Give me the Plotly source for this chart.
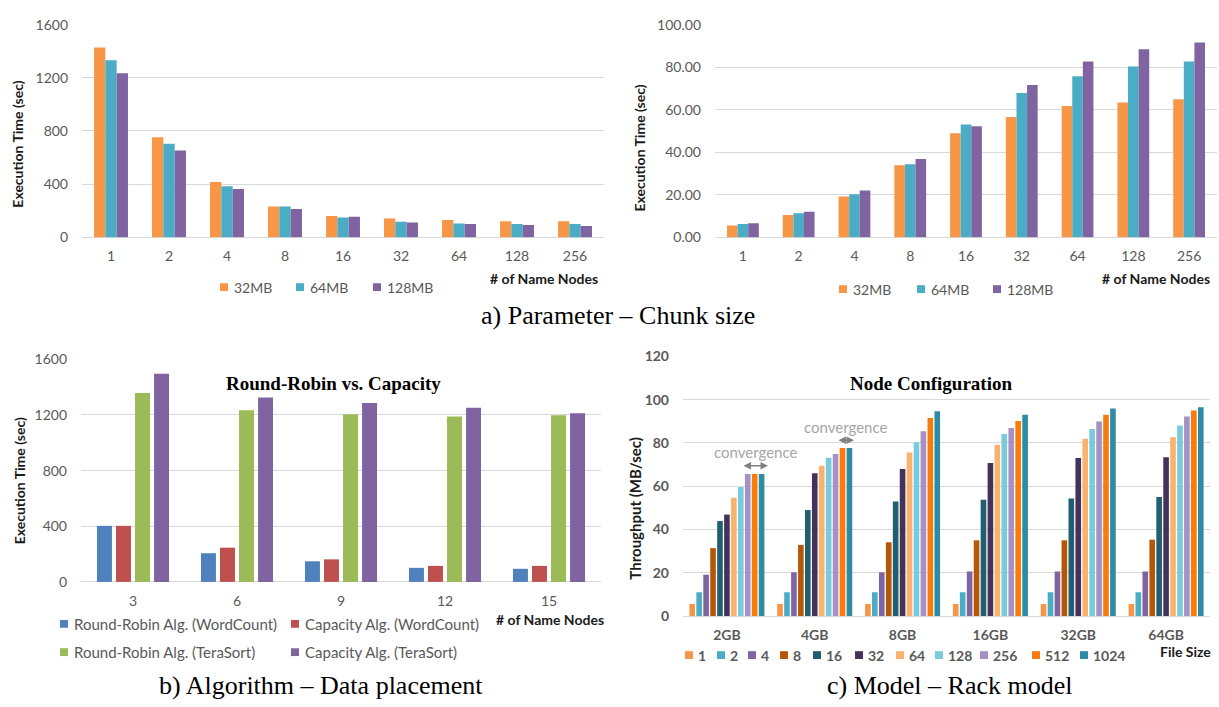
import plotly.graph_objects as go

W, H = 1219, 707

# ---------------- data ----------------
name_nodes_a = ["1", "2", "4", "8", "16", "32", "64", "128", "256"]
chunk_sizes = ["32MB", "64MB", "128MB"]
a_left_32mb = [1428, 753, 416, 232, 161, 142, 130, 122, 122]
a_left_64mb = [1332, 704, 384, 232, 149, 117, 105, 100, 100]
a_left_128mb = [1234, 653, 364, 213, 156, 112, 100, 93, 86]
a_right_32mb = [5.6, 10.5, 19.2, 33.9, 49.0, 56.6, 61.8, 63.4, 64.9]
a_right_64mb = [6.3, 11.3, 20.3, 34.4, 53.0, 67.9, 75.7, 80.3, 82.7]
a_right_128mb = [6.6, 12.1, 22.0, 36.8, 52.2, 71.6, 82.7, 88.4, 91.6]

name_nodes_b = ["3", "6", "9", "12", "15"]
algo_names = ["Round-Robin Alg. (WordCount)", "Capacity Alg. (WordCount)",
              "Round-Robin Alg. (TeraSort)", "Capacity Alg. (TeraSort)"]
rr_wordcount = [403, 206, 148, 101, 94]
cap_wordcount = [403, 246, 162, 115, 115]
rr_terasort = [1358, 1234, 1206, 1190, 1199]
cap_terasort = [1496, 1325, 1286, 1253, 1213]

file_sizes = ["2GB", "4GB", "8GB", "16GB", "32GB", "64GB"]
node_counts = ["1", "2", "4", "8", "16", "32", "64", "128", "256", "512", "1024"]
thr_1 = [5.6, 5.6, 5.6, 5.6, 5.6, 5.6]
thr_2 = [11.0, 11.0, 11.0, 11.0, 11.0, 11.0]
thr_4 = [19.1, 20.2, 20.2, 20.6, 20.6, 20.6]
thr_8 = [31.4, 32.9, 34.1, 35.0, 35.0, 35.3]
thr_16 = [43.9, 49.0, 52.9, 53.7, 54.3, 55.0]
thr_32 = [46.9, 66.0, 68.0, 70.7, 73.1, 73.4]
thr_64 = [54.7, 69.5, 75.6, 79.2, 82.0, 82.6]
thr_128 = [59.7, 73.2, 80.3, 84.2, 86.5, 88.1]
thr_256 = [65.7, 74.9, 85.4, 86.9, 89.9, 92.2]
thr_512 = [65.7, 77.7, 91.6, 90.1, 93.1, 95.0]
thr_1024 = [65.7, 77.7, 94.7, 93.1, 95.9, 96.5]

# ---------------- styles ----------------
col_a = ["#F79646", "#4BACC6", "#8064A2"]
col_b = ["#4F81BD", "#C0504D", "#9BBB59", "#8064A2"]
col_c = ["#F79646", "#4BACC6", "#8064A2", "#B65708", "#215F70", "#43325A",
         "#F9B36E", "#78CADC", "#A690C6", "#F87B0C", "#2E8BA5"]
FONT = "Lato"
GRAY = "#595959"
GRID = "#D9D9D9"


def px_x(v):
    return v / W


def px_y(v):
    return 1 - v / H


fig = go.Figure()


def add_group(xcats, series, names, colors, xa, ya, slot, width):
    n = len(series)
    for i, (vals, nm, c) in enumerate(zip(series, names, colors)):
        center = (i - (n - 1) / 2) * slot
        fig.add_trace(go.Bar(
            x=xcats, y=vals, name=nm, marker_color=c, marker_line_width=0,
            offset=center - width / 2, width=width,
            xaxis=xa, yaxis=ya, showlegend=False))


add_group(name_nodes_a, [a_left_32mb, a_left_64mb, a_left_128mb], chunk_sizes, col_a,
          "x", "y", 0.195, 0.195)
add_group(name_nodes_a, [a_right_32mb, a_right_64mb, a_right_128mb], chunk_sizes, col_a,
          "x2", "y2", 0.19, 0.19)
add_group(name_nodes_b, [rr_wordcount, cap_wordcount, rr_terasort, cap_terasort], algo_names, col_b,
          "x3", "y3", 0.183, 0.144)
add_group(file_sizes, [thr_1, thr_2, thr_4, thr_8, thr_16, thr_32, thr_64, thr_128, thr_256,
                       thr_512, thr_1024], node_counts, col_c, "x4", "y4", 0.079, 0.064)


def xax(d0, d1, n, anchor, bold=False):
    return dict(domain=[px_x(d0), px_x(d1)], anchor=anchor, type="category",
                range=[-0.5, n - 0.5], showgrid=False, showline=False, ticks="",
                zeroline=False, ticklabelstandoff=9,
                tickfont=dict(family=FONT, size=14, color=GRAY,
                              weight="bold" if bold else "normal"))


def yax(top, bottom, rng, dtick, anchor, fmt=None, bold=False):
    d = dict(domain=[px_y(bottom), px_y(top)], anchor=anchor, range=rng, dtick=dtick,
             tick0=0, showgrid=True, gridcolor=GRID, gridwidth=1, zeroline=True,
             zerolinecolor=GRID, zerolinewidth=1, showline=False, ticks="",
             ticklabelstandoff=13,
             tickfont=dict(family=FONT, size=14, color=GRAY,
                           weight="bold" if bold else "normal"))
    if fmt:
        d["tickformat"] = fmt
    return d


annotations = []
shapes = []


def text(x, y, s, size=14, color=GRAY, bold=False, xanchor="center", family=FONT, angle=0):
    annotations.append(dict(
        x=px_x(x), y=px_y(y), xref="paper", yref="paper", text=s, showarrow=False,
        xanchor=xanchor, yanchor="middle", textangle=angle,
        font=dict(family=family, size=size, color=color, weight="bold" if bold else "normal")))


def legend(names, colors, lefts, cy, bold=False, gap=12, size=14):
    for nm, c, lx in zip(names, colors, lefts):
        shapes.append(dict(type="rect", xref="paper", yref="paper",
                           x0=px_x(lx), x1=px_x(lx + 8), y0=px_y(cy + 4), y1=px_y(cy - 4),
                           fillcolor=c, line=dict(width=0)))
        text(lx + gap, cy, nm, bold=bold, xanchor="left", size=size)


# axis titles
text(18, 139, "Execution Time (sec)", size=14, color="#1a1a1a", bold=True, angle=-90)
text(640, 143, "Execution Time (sec)", size=14, color="#1a1a1a", bold=True, angle=-90)
text(19, 484, "Execution Time (sec)", size=14, color="#1a1a1a", bold=True, angle=-90)
text(635, 512, "Throughput (MB/sec)", size=15, color="#1a1a1a", bold=True, angle=-90)

# x-axis end labels
text(600, 276, "# of Name Nodes", color="#1a1a1a", bold=True, xanchor="right")
text(1212, 276, "# of Name Nodes", color="#1a1a1a", bold=True, xanchor="right")
text(606, 626, "# of Name Nodes", color="#1a1a1a", bold=True, xanchor="right")
text(1213, 658, "File Size", color="#1a1a1a", bold=True, xanchor="right")

# chart titles
text(333, 384, "Round-Robin vs. Capacity", size=19, color="#000000", bold=True,
     family="Liberation Serif")
text(931, 384, "Node Configuration", size=19, color="#000000", bold=True,
     family="Liberation Serif")

# captions
text(618, 314, "a) Parameter – Chunk size", size=26, color="#000000", family="Liberation Serif")
text(321, 693, "b) Algorithm – Data placement", size=26, color="#000000", family="Liberation Serif")
text(950, 693, "c) Model – Rack model", size=26, color="#000000", family="Liberation Serif")

# convergence notes
text(755, 454, "convergence", size=15, color="#A6A6A6")
text(845, 428, "convergence", size=15, color="#A6A6A6")
for x1, x0, y in [(768, 742, 468), (854, 837, 442)]:
    annotations.append(dict(x=px_x(x1), y=px_y(y), ax=x0 - x1, ay=0,
                            xref="paper", yref="paper", axref="pixel", ayref="pixel",
                            text="", showarrow=True, arrowside="end+start", arrowhead=2,
                            arrowsize=1, arrowwidth=1.5, arrowcolor="#808080"))

# legends
legend(chunk_sizes, col_a, [220, 296, 373], 285)
legend(chunk_sizes, col_a, [839, 917, 993], 287)
legend(algo_names[:2], col_b[:2], [60, 291], 630, size=15)
legend(algo_names[2:], col_b[2:], [60, 291], 659, size=15)
legend(node_counts, col_c, [685, 717, 748, 780, 813, 855, 896, 935, 980, 1032, 1080], 662,
       bold=True, gap=11)

fig.update_layout(
    width=W, height=H, margin=dict(l=0, r=0, t=0, b=0),
    paper_bgcolor="white", plot_bgcolor="white", showlegend=False,
    barmode="group",
    xaxis=xax(82, 604, len(name_nodes_a), "y"),
    yaxis=yax(16, 234, [0, 1600], 400, "x"),
    xaxis2=xax(715, 1217, len(name_nodes_a), "y2"),
    yaxis2=yax(16, 234, [0, 100], 20, "x2", fmt=".2f"),
    xaxis3=xax(81, 601, len(name_nodes_b), "y3"),
    yaxis3=yax(359, 587, [0, 1600], 400, "x3"),
    xaxis4=xax(683, 1210, len(file_sizes), "y4", bold=True),
    yaxis4=yax(356, 622, [0, 120], 20, "x4", bold=True),
    annotations=annotations, shapes=shapes,
)

fig.write_html("out.html", config={"displayModeBar": False},
               post_script="document.body.style.margin='0';")
